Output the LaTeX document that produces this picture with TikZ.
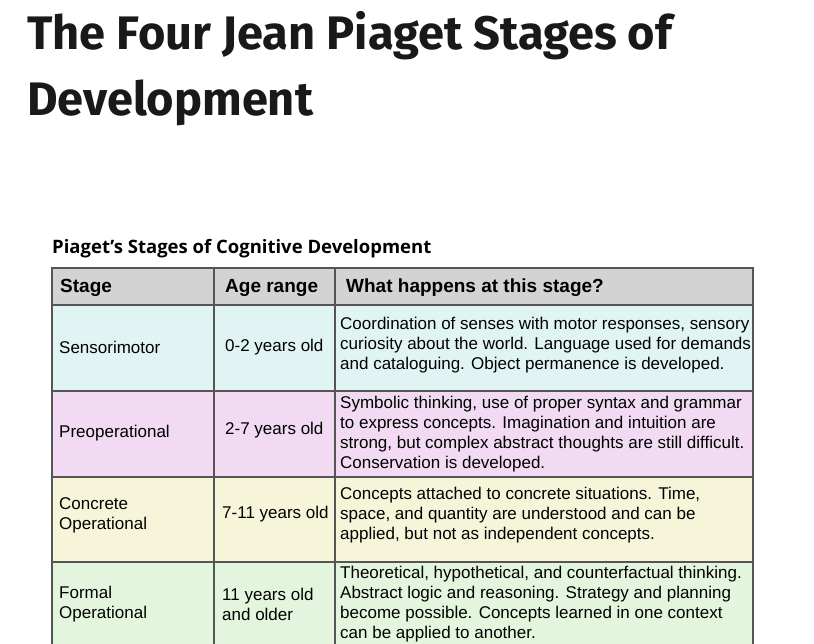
\documentclass[tikz,border=0pt]{standalone}
\usepackage{fontspec}
\setmainfont{Liberation Sans}
\newfontfamily\titlefont{Open Sans}
\newfontfamily\bigfont{Fira Sans}
\definecolor{hdr}{HTML}{D3D3D3}
\definecolor{rA}{HTML}{E0F5F3}
\definecolor{rB}{HTML}{F1DAF2}
\definecolor{rC}{HTML}{F6F4D9}
\definecolor{rD}{HTML}{E3F6DD}
\definecolor{ln}{HTML}{555555}
\begin{document}
\begin{tikzpicture}[x=1pt,y=-1pt,
  cell/.style={anchor=west,align=left,inner sep=0pt,font=\fontsize{17}{20}\selectfont},
  hcell/.style={cell,font=\fontsize{19}{20}\selectfont\bfseries},
  ttl/.style={anchor=north west,align=left,inner sep=0pt,font=\bigfont\fontsize{47}{66}\selectfont\bfseries,text=black!90}]
\useasboundingbox (0,0) rectangle (814,644);
\fill[white] (0,0) rectangle (814,644);
\node[ttl] (title) at (27,11) {The Four Jean Piaget Stages of\\Development};
\node[anchor=south west,inner sep=0pt,font=\titlefont\fontsize{18.5}{20}\selectfont\bfseries] (sub) at (52,258) {Piaget’s Stages of Cognitive Development};
\fill[hdr] (52,268) rectangle (753,305);
\fill[rA] (52,305) rectangle (753,391);
\fill[rB] (52,391) rectangle (753,477);
\fill[rC] (52,477) rectangle (753,562);
\fill[rD] (52,562) rectangle (753,650);
\draw[ln,line width=1.2pt] (52,650) -- (52,268) -- (753,268) -- (753,650);
\foreach \y in {305,391,477,562} \draw[ln,line width=1.2pt] (52,\y) -- (753,\y);
\foreach \x in {214,335} \draw[ln,line width=1.2pt] (\x,268) -- (\x,650);
\node[hcell] (h1) at (60,288) {Stage};
\node[hcell] (h2) at (225,288) {Age range};
\node[hcell] (h3) at (346,288) {What happens at this stage?};
\node[cell] (s1) at (59,347) {Sensorimotor};
\node[cell] (a1) at (225,347) {0-2 years old};
\node[cell] (d1) at (340,345) {Coordination of senses with motor responses, sensory\\curiosity about the world. Language used for demands\\and cataloguing. Object permanence is developed.};
\node[cell] (s2) at (59,433) {Preoperational};
\node[cell] (a2) at (225,430) {2-7 years old};
\node[cell] (d2) at (340,434) {Symbolic thinking, use of proper syntax and grammar\\to express concepts. Imagination and intuition are\\strong, but complex abstract thoughts are still difficult.\\Conservation is developed.};
\node[cell] (s3) at (59,515) {Concrete\\Operational};
\node[cell] (a3) at (222,514) {7-11 years old};
\node[cell] (d3) at (340,515) {Concepts attached to concrete situations. Time,\\space, and quantity are understood and can be\\applied, but not as independent concepts.};
\node[cell] (s4) at (59,604) {Formal\\Operational};
\node[cell] (a4) at (222,604) {11 years old\\and older};
\node[cell] (d4) at (340,604) {Theoretical, hypothetical, and counterfactual thinking.\\Abstract logic and reasoning. Strategy and planning\\become possible. Concepts learned in one context\\can be applied to another.};
\end{tikzpicture}
\end{document}
